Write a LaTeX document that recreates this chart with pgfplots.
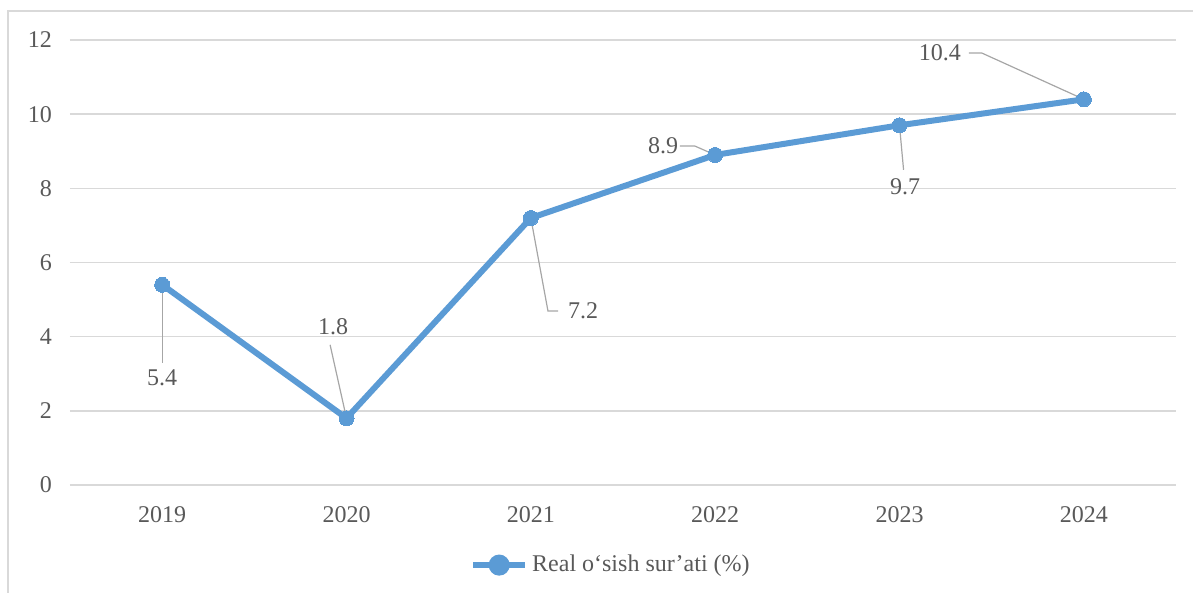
\documentclass[border=0pt]{standalone}
\usepackage{fontspec}
\setmainfont{Liberation Serif}
\usepackage{pgfplots}
\pgfplotsset{compat=1.18}
\definecolor{lineblue}{HTML}{5B9BD5}
\definecolor{gridgray}{HTML}{D9D9D9}
\definecolor{txtgray}{HTML}{595959}
\definecolor{leadgray}{HTML}{A6A6A6}
\newcommand{\lbl}{\fontsize{12}{14}\selectfont}
\begin{document}
\begin{tikzpicture}
\useasboundingbox (0,0) rectangle (596.5pt,296.5pt);
\draw[gridgray, line width=0.75pt] (4pt,-20pt) rectangle (620pt,291pt);
\begin{axis}[
  at={(35pt,54pt)}, anchor=south west,
  scale only axis, width=553pt, height=222.5pt,
  xmin=-0.5, xmax=5.5, ymin=0, ymax=12,
  xtick={0,1,2,3,4,5},
  xticklabels={2019,2020,2021,2022,2023,2024},
  ytick={0,2,4,6,8,10,12},
  ymajorgrids,
  grid style={gridgray, line width=0.75pt},
  axis line style={draw=none},
  tick style={draw=none},
  /pgf/number format/assume math mode=true,
  tick label style={font=\lbl, text=txtgray},
  yticklabel style={xshift=-5.5pt},
  xticklabel style={yshift=-7pt},
  legend style={at={(0.49,-0.18)}, anchor=center, draw=none, fill=none,
    font=\lbl, text=txtgray, inner sep=0pt},
  legend image code/.code={%
    \draw[#1, mark=none] (0pt,0pt) -- (26pt,0pt);
    \fill[lineblue] (13pt,0pt) circle (3.75pt);},
  clip=false,
]
\addplot[lineblue, line width=3pt, mark=*, mark size=3.75pt,
  mark options={fill=lineblue, draw=lineblue, line width=0pt}]
  coordinates {(0,5.4) (1,1.8) (2,7.2) (3,8.9) (4,9.7) (5,10.4)};
\addlegendentry{Real o‘sish sur’ati (\%)}
% leader lines
\draw[leadgray, line width=0.6pt] (axis cs:0,5.26) -- (axis cs:0,3.3);
\draw[leadgray, line width=0.6pt] (axis cs:0.911,3.78) -- (axis cs:1,1.8);
\draw[leadgray, line width=0.6pt] (axis cs:2,7.2) -- (axis cs:2.093,4.69) -- (axis cs:2.148,4.69);
\draw[leadgray, line width=0.6pt] (axis cs:2.809,9.14) -- (axis cs:2.89,9.14) -- (axis cs:3,8.9);
\draw[leadgray, line width=0.6pt] (axis cs:4,9.7) -- (axis cs:4.022,8.5);
\draw[leadgray, line width=0.6pt] (axis cs:4.376,11.65) -- (axis cs:4.446,11.65) -- (axis cs:5,10.4);
% labels
\node[text=txtgray, font=\lbl] at (axis cs:0,2.886) {5.4};
\node[text=txtgray, font=\lbl] at (axis cs:0.927,4.26) {1.8};
\node[text=txtgray, font=\lbl] at (axis cs:2.283,4.69) {7.2};
\node[text=txtgray, font=\lbl] at (axis cs:2.717,9.14) {8.9};
\node[text=txtgray, font=\lbl] at (axis cs:4.03,8.04) {9.7};
\node[text=txtgray, font=\lbl] at (axis cs:4.219,11.65) {10.4};
\end{axis}
\end{tikzpicture}
\end{document}
